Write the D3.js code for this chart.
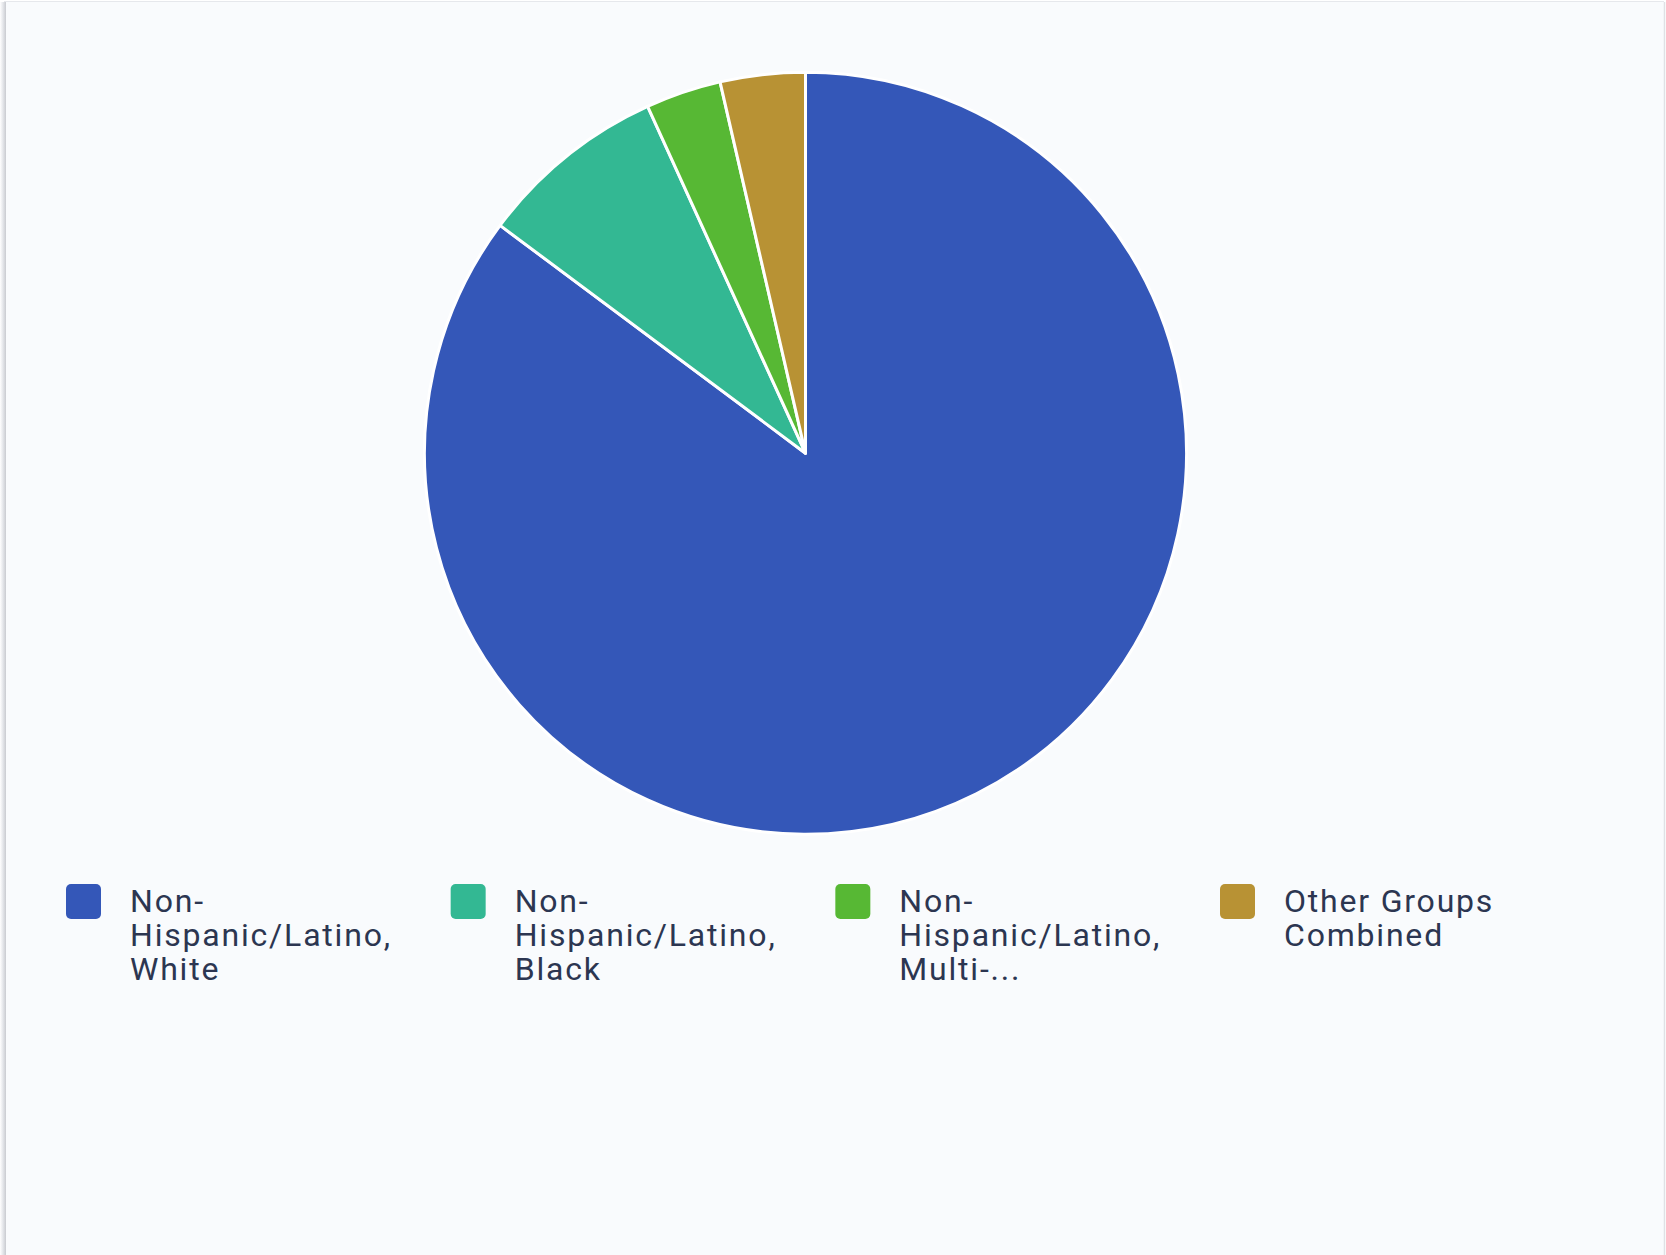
<!DOCTYPE html>
<html>
<head>
<meta charset="utf-8">
<script src="https://cdn.jsdelivr.net/npm/d3@7"></script>
<style>
  html, body { margin: 0; padding: 0; background: #ffffff; }
  svg { display: block; }
</style>
</head>
<body>
<svg id="chart" width="1666" height="1255"></svg>
<script>
// Share of population by race/ethnicity
const categories = [
  "Non-Hispanic/Latino, White",
  "Non-Hispanic/Latino, Black",
  "Non-Hispanic/Latino, Multi-Racial",
  "Other Groups Combined"
];
const values = [85.2, 8.0, 3.2, 3.6];
const colors = ["#3457b8", "#33b893", "#57b834", "#b89234"];
// Legend text as wrapped/truncated in the legend
const legendLines = [
  ["Non-", "Hispanic/Latino,", "White"],
  ["Non-", "Hispanic/Latino,", "Black"],
  ["Non-", "Hispanic/Latino,", "Multi-..."],
  ["Other Groups", "Combined"]
];

const W = 1666, H = 1255;
const svg = d3.select("#chart");

// Card background with a soft left shadow and thin frame
const defs = svg.append("defs");
const grad = defs.append("linearGradient").attr("id", "leftShade")
  .attr("x1", 0).attr("x2", 1).attr("y1", 0).attr("y2", 0);
grad.append("stop").attr("offset", "0%").attr("stop-color", "#ffffff");
grad.append("stop").attr("offset", "50%").attr("stop-color", "#e4e6ea");
grad.append("stop").attr("offset", "100%").attr("stop-color", "#c9cbd0");

svg.append("rect").attr("x", 0).attr("y", 0).attr("width", W).attr("height", H).attr("fill", "#ffffff");
svg.append("rect").attr("x", 0).attr("y", 2).attr("width", 6).attr("height", H - 2).attr("fill", "url(#leftShade)");
svg.append("rect").attr("x", 6).attr("y", 2).attr("width", W - 8).attr("height", H - 2).attr("fill", "#f9fbfd");
svg.append("line").attr("x1", 4).attr("x2", W - 2).attr("y1", 1.5).attr("y2", 1.5)
  .attr("stroke", "#e6e8ec").attr("stroke-width", 1);
svg.append("line").attr("x1", W - 1.5).attr("x2", W - 1.5).attr("y1", 2).attr("y2", H)
  .attr("stroke", "#dfe1e5").attr("stroke-width", 1.5);

// Pie
const cx = 805.5, cy = 453.2, radius = 381;
const pie = d3.pie().sort(null).value(d => d.value);
const arc = d3.arc().innerRadius(0).outerRadius(radius);
const data = categories.map((c, i) => ({ name: c, value: values[i], color: colors[i] }));

svg.append("g").attr("transform", `translate(${cx},${cy})`)
  .selectAll("path")
  .data(pie(data))
  .join("path")
  .attr("d", arc)
  .attr("fill", d => d.data.color)
  .attr("stroke", "#ffffff")
  .attr("stroke-width", 3)
  .attr("stroke-linejoin", "round");

// Legend
const legendX = d3.scalePoint().domain(categories).range([66, 1220]);
const legend = svg.append("g").attr("class", "legend");
const items = legend.selectAll("g.item")
  .data(data)
  .join("g")
  .attr("class", "item")
  .attr("transform", d => `translate(${legendX(d.name)},884)`);

items.append("rect")
  .attr("width", 35).attr("height", 35)
  .attr("rx", 5).attr("ry", 5)
  .attr("fill", d => d.color);

items.append("text")
  .attr("x", 64)
  .attr("y", 28)
  .attr("font-family", "Roboto, 'Noto Sans', sans-serif")
  .attr("font-size", 32)
  .attr("letter-spacing", 1.8)
  .attr("fill", "#2c3651")
  .selectAll("tspan")
  .data((d, i) => legendLines[i])
  .join("tspan")
  .attr("x", 64)
  .attr("dy", (d, j) => j === 0 ? 0 : 34)
  .text(d => d);
</script>
</body>
</html>
